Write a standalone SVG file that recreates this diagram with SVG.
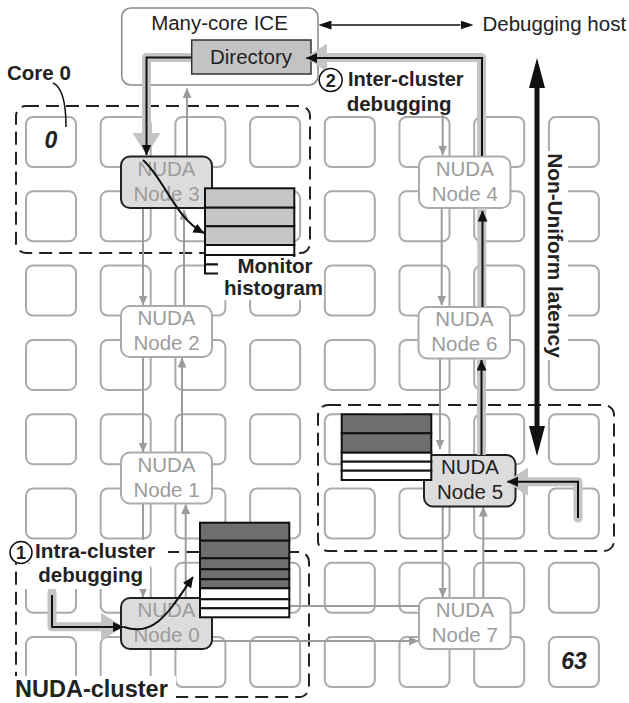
<svg xmlns="http://www.w3.org/2000/svg" width="629" height="703" viewBox="0 0 629 703">
<defs>
<style>
.core{fill:#fff;stroke:#ababab;stroke-width:2}
.clu{fill:none;stroke:#222;stroke-width:2;stroke-dasharray:13 7}
.n-off rect{fill:#fff;stroke:#ababab;stroke-width:2}
.n-on rect{fill:#dcdcdc;stroke:#222;stroke-width:2}
.nt{font-family:"Liberation Sans",Arial,sans-serif;font-size:20.5px;text-anchor:middle;fill:#9c9c9c}
#node5 .nt{fill:#222}
.lbl{font-family:"Liberation Sans",Arial,sans-serif;font-size:20.5px;fill:#222}
.b{font-weight:bold}
.g{fill:none;stroke:#9c9c9c;stroke-width:2;marker-end:url(#ag)}
.gp{fill:none;stroke:#9c9c9c;stroke-width:2}
.k{fill:none;stroke:#111;stroke-width:2;marker-end:url(#ak)}
.h{fill:none;stroke:#c4c4c4;stroke-width:9;stroke-linejoin:round;stroke-linecap:butt}
.hr{stroke-linecap:round}
.hh{marker-end:url(#ah)}
.hg1{fill:#c6c6c6;stroke:#111;stroke-width:2}
.hg2{fill:#6f6f6f;stroke:#111;stroke-width:2}
.hw{fill:#fff;stroke:#111;stroke-width:2}
.bg{fill:#fff;stroke:none}
</style>
<marker id="ag" viewBox="0 0 10 9" refX="9.5" refY="4.5" markerWidth="10" markerHeight="9" markerUnits="userSpaceOnUse" orient="auto"><path d="M0,0 L10,4.5 L0,9z" fill="#9c9c9c"/></marker>
<marker id="ak" viewBox="0 0 11 10" refX="10.5" refY="5" markerWidth="11" markerHeight="10" markerUnits="userSpaceOnUse" orient="auto"><path d="M0,0 L11,5 L0,10z" fill="#111"/></marker>
<marker id="ah" viewBox="0 0 22 28" refX="0" refY="14" markerWidth="22" markerHeight="28" markerUnits="userSpaceOnUse" orient="auto"><path d="M0,0 L22,14 L0,28z" fill="#c4c4c4"/></marker>
<marker id="abig" viewBox="0 0 30 16" refX="0" refY="8" markerWidth="30" markerHeight="16" markerUnits="userSpaceOnUse" orient="auto-start-reverse"><path d="M0,0 L30,8 L0,16z" fill="#111"/></marker>
<marker id="ahost" viewBox="0 0 13 9" refX="0" refY="4.5" markerWidth="13" markerHeight="9" markerUnits="userSpaceOnUse" orient="auto-start-reverse"><path d="M0,0 L13,4.5 L0,9z" fill="#111"/></marker>
</defs>
<rect width="629" height="703" fill="#fff"/>

<g id="cores">
<rect class="core" x="26" y="117" width="50" height="50" rx="7"/><rect class="core" x="100.7" y="117" width="50" height="50" rx="7"/><rect class="core" x="175.4" y="117" width="50" height="50" rx="7"/><rect class="core" x="250.1" y="117" width="50" height="50" rx="7"/><rect class="core" x="324.8" y="117" width="50" height="50" rx="7"/><rect class="core" x="399.5" y="117" width="50" height="50" rx="7"/><rect class="core" x="474.2" y="117" width="50" height="50" rx="7"/><rect class="core" x="548.9" y="117" width="50" height="50" rx="7"/>
<rect class="core" x="26" y="191.3" width="50" height="50" rx="7"/><rect class="core" x="100.7" y="191.3" width="50" height="50" rx="7"/><rect class="core" x="175.4" y="191.3" width="50" height="50" rx="7"/><rect class="core" x="250.1" y="191.3" width="50" height="50" rx="7"/><rect class="core" x="324.8" y="191.3" width="50" height="50" rx="7"/><rect class="core" x="399.5" y="191.3" width="50" height="50" rx="7"/><rect class="core" x="474.2" y="191.3" width="50" height="50" rx="7"/><rect class="core" x="548.9" y="191.3" width="50" height="50" rx="7"/>
<rect class="core" x="26" y="265.6" width="50" height="50" rx="7"/><rect class="core" x="100.7" y="265.6" width="50" height="50" rx="7"/><rect class="core" x="175.4" y="265.6" width="50" height="50" rx="7"/><rect class="core" x="250.1" y="265.6" width="50" height="50" rx="7"/><rect class="core" x="324.8" y="265.6" width="50" height="50" rx="7"/><rect class="core" x="399.5" y="265.6" width="50" height="50" rx="7"/><rect class="core" x="474.2" y="265.6" width="50" height="50" rx="7"/><rect class="core" x="548.9" y="265.6" width="50" height="50" rx="7"/>
<rect class="core" x="26" y="339.9" width="50" height="50" rx="7"/><rect class="core" x="100.7" y="339.9" width="50" height="50" rx="7"/><rect class="core" x="175.4" y="339.9" width="50" height="50" rx="7"/><rect class="core" x="250.1" y="339.9" width="50" height="50" rx="7"/><rect class="core" x="324.8" y="339.9" width="50" height="50" rx="7"/><rect class="core" x="399.5" y="339.9" width="50" height="50" rx="7"/><rect class="core" x="474.2" y="339.9" width="50" height="50" rx="7"/><rect class="core" x="548.9" y="339.9" width="50" height="50" rx="7"/>
<rect class="core" x="26" y="414.2" width="50" height="50" rx="7"/><rect class="core" x="100.7" y="414.2" width="50" height="50" rx="7"/><rect class="core" x="175.4" y="414.2" width="50" height="50" rx="7"/><rect class="core" x="250.1" y="414.2" width="50" height="50" rx="7"/><rect class="core" x="324.8" y="414.2" width="50" height="50" rx="7"/><rect class="core" x="399.5" y="414.2" width="50" height="50" rx="7"/><rect class="core" x="474.2" y="414.2" width="50" height="50" rx="7"/><rect class="core" x="548.9" y="414.2" width="50" height="50" rx="7"/>
<rect class="core" x="26" y="488.5" width="50" height="50" rx="7"/><rect class="core" x="100.7" y="488.5" width="50" height="50" rx="7"/><rect class="core" x="175.4" y="488.5" width="50" height="50" rx="7"/><rect class="core" x="250.1" y="488.5" width="50" height="50" rx="7"/><rect class="core" x="324.8" y="488.5" width="50" height="50" rx="7"/><rect class="core" x="399.5" y="488.5" width="50" height="50" rx="7"/><rect class="core" x="474.2" y="488.5" width="50" height="50" rx="7"/><rect class="core" x="548.9" y="488.5" width="50" height="50" rx="7"/>
<rect class="core" x="26" y="562.8" width="50" height="50" rx="7"/><rect class="core" x="100.7" y="562.8" width="50" height="50" rx="7"/><rect class="core" x="175.4" y="562.8" width="50" height="50" rx="7"/><rect class="core" x="250.1" y="562.8" width="50" height="50" rx="7"/><rect class="core" x="324.8" y="562.8" width="50" height="50" rx="7"/><rect class="core" x="399.5" y="562.8" width="50" height="50" rx="7"/><rect class="core" x="474.2" y="562.8" width="50" height="50" rx="7"/><rect class="core" x="548.9" y="562.8" width="50" height="50" rx="7"/>
<rect class="core" x="26" y="637.1" width="50" height="50" rx="7"/><rect class="core" x="100.7" y="637.1" width="50" height="50" rx="7"/><rect class="core" x="175.4" y="637.1" width="50" height="50" rx="7"/><rect class="core" x="250.1" y="637.1" width="50" height="50" rx="7"/><rect class="core" x="324.8" y="637.1" width="50" height="50" rx="7"/><rect class="core" x="399.5" y="637.1" width="50" height="50" rx="7"/><rect class="core" x="474.2" y="637.1" width="50" height="50" rx="7"/><rect class="core" x="548.9" y="637.1" width="50" height="50" rx="7"/>
<text class="lbl b" x="51" y="148" style="font-size:23px;font-style:italic" text-anchor="middle">0</text>
<text class="lbl b" x="574" y="668.5" style="font-size:23px;font-style:italic" text-anchor="middle">63</text>
</g>

<g id="clusters">
<rect class="clu" x="16" y="106" width="294" height="147" rx="10"/>
<rect class="clu" x="318" y="405" width="296" height="146" rx="10"/>
<rect class="clu" x="16" y="552" width="293" height="145" rx="10"/>
</g>

<g id="ice">
<rect x="121.7" y="8" width="196.3" height="77" rx="9" fill="#fff" stroke="#888" stroke-width="1.5"/>
<text class="lbl" x="219.5" y="30" text-anchor="middle">Many-core ICE</text>
</g>
<g id="directory">
<rect x="191.7" y="40" width="119.3" height="34" fill="#c3c3c3" stroke="#333" stroke-width="1.5"/>
<text class="lbl" x="251" y="63.5" text-anchor="middle">Directory</text>
</g>

<g id="connectors">
<path class="g" d="M187,156 V88.5"/>
<path class="g" d="M143,208 V305"/>
<path class="g" d="M184,306 V210"/>
<path class="g" d="M143,357 V452"/>
<path class="g" d="M182,452.5 V358"/>
<path class="g" d="M143,503 V597"/>
<path class="g" d="M185.7,598 V504.5"/>
<path class="gp" d="M212,606 H419"/>
<path class="g" d="M212,641 H418.5"/>
<path class="g" d="M483.3,598 V507"/>
<path class="g" d="M442.7,506.5 V597"/>
<path class="g" d="M440,359 V449"/>
<path class="g" d="M441.7,208 V305"/>
<path class="g" d="M442.7,115 V155"/>
<path d="M537,88 V426" fill="none" stroke="#111" stroke-width="5" marker-start="url(#abig)" marker-end="url(#abig)"/>
<path d="M331.5,25 H460.5" fill="none" stroke="#111" stroke-width="1.6" marker-start="url(#ahost)" marker-end="url(#ahost)"/>
<path d="M53,83 C60,86 66,96 66,127" fill="none" stroke="#111" stroke-width="1.5"/>
</g>

<g id="node3" class="n-on"><rect x="121" y="156.5" width="91" height="51.5" rx="9"/><text class="nt" x="166.5" y="175.5">NUDA</text><text class="nt" x="166.5" y="200.5">Node 3</text></g>
<g id="node2" class="n-off"><rect x="121" y="306" width="91" height="51" rx="9"/><text class="nt" x="166.5" y="325">NUDA</text><text class="nt" x="166.5" y="349.5">Node 2</text></g>
<g id="node1" class="n-off"><rect x="121" y="452.5" width="91" height="51" rx="9"/><text class="nt" x="166.5" y="471.5">NUDA</text><text class="nt" x="166.5" y="496.5">Node 1</text></g>
<g id="node0" class="n-on"><rect x="121" y="598" width="91" height="51" rx="9"/><text class="nt" x="166.5" y="617">NUDA</text><text class="nt" x="166.5" y="642">Node 0</text></g>
<g id="node4" class="n-off"><rect x="419" y="156.5" width="91.5" height="51.5" rx="9"/><text class="nt" x="464.8" y="175.5">NUDA</text><text class="nt" x="464.8" y="200.5">Node 4</text></g>
<g id="node6" class="n-off"><rect x="418.5" y="307" width="91.5" height="51.5" rx="9"/><text class="nt" x="464.3" y="326">NUDA</text><text class="nt" x="464.3" y="351">Node 6</text></g>
<g id="node7" class="n-off"><rect x="419" y="598" width="91.5" height="51" rx="9"/><text class="nt" x="464.8" y="617">NUDA</text><text class="nt" x="464.8" y="642">Node 7</text></g>
<g id="node5" class="n-on"><rect x="424" y="455" width="91.5" height="51.5" rx="9"/><text class="nt" x="470" y="474">NUDA</text><text class="nt" x="470" y="499">Node 5</text></g>

<g id="histogram3">
<rect class="hg1" x="205" y="188.3" width="89.3" height="19.4"/>
<rect class="hg1" x="205" y="207.7" width="89.3" height="18.6"/>
<rect class="hg1" x="205" y="226.3" width="89.3" height="18.7"/>
<rect class="hw" x="205" y="245" width="89.3" height="10"/>
<rect class="hw" x="205" y="255" width="89.3" height="9.5"/>
<rect class="hw" x="205" y="264.5" width="89.3" height="9"/>
</g>
<g id="histogram5">
<rect class="hg2" x="341.7" y="414.3" width="89.6" height="19"/>
<rect class="hg2" x="341.7" y="433.3" width="89.6" height="19.4"/>
<rect class="hw" x="341.7" y="452.7" width="89.6" height="9"/>
<rect class="hw" x="341.7" y="461.7" width="89.6" height="9"/>
<rect class="hw" x="341.7" y="470.7" width="89.6" height="9.3"/>
</g>
<g id="histogram0">
<rect class="hg2" x="200" y="522.7" width="89.3" height="18"/>
<rect class="hg2" x="200" y="540.7" width="89.3" height="17.6"/>
<rect class="hg2" x="200" y="558.3" width="89.3" height="11"/>
<rect class="hg2" x="200" y="569.3" width="89.3" height="10"/>
<rect class="hg2" x="200" y="579.3" width="89.3" height="9"/>
<rect class="hw" x="200" y="588.3" width="89.3" height="11"/>
<rect class="hw" x="200" y="599.3" width="89.3" height="9"/>
<rect class="hw" x="200" y="608.3" width="89.3" height="9"/>
</g>

<g id="debug-paths">
<path class="h hh" d="M191,57.5 H146.5 V133"/>
<path class="h hh" d="M481.5,156 V57.5 H327"/>
<path class="h" d="M481.8,307 V208"/>
<path class="h" d="M481.5,455 V358.5"/>
<path class="h hr hh" d="M578,518 V481.7 H528"/>
<path class="h hr hh" d="M52,592 V626.7 H101"/>
<path class="k" d="M191,57.5 H146.5 V155"/>
<path class="k" d="M482,156 V58 H306.5"/>
<path class="k" d="M482.5,307 V211"/>
<path class="k" d="M481.5,455 V360"/>
<path class="k" d="M578,518 V481.7 H507.5"/>
<path class="k" d="M52,595 V627 H123.5"/>
<path class="k" d="M143,160 C165,180 175,218 204,233"/>
<path class="k" d="M124,627 C155,638 170,610 193,577"/>
</g>

<g id="labels">
<text class="lbl b" x="7" y="80">Core 0</text>
<text class="lbl" x="482.5" y="31">Debugging host</text>
<circle cx="330.7" cy="80" r="11.5" fill="#fff" stroke="#111" stroke-width="1.5"/>
<text class="lbl b" x="330.7" y="86.5" style="font-size:18px" text-anchor="middle">2</text>
<text class="lbl b" x="348" y="85.7" style="font-size:20px">Inter-cluster</text>
<text class="lbl b" x="346.7" y="110.7" style="font-size:20.5px">debugging</text>
<rect class="bg" x="218" y="257" width="106" height="43"/>
<text class="lbl b" x="275" y="273.3" text-anchor="middle">Monitor</text>
<text class="lbl b" x="273.5" y="294.5" text-anchor="middle">histogram</text>
<rect class="bg" x="541" y="151" width="27" height="209"/>
<text class="lbl b" transform="translate(547.5,255.5) rotate(90)" style="font-size:20.8px" text-anchor="middle">Non-Uniform latency</text>
<rect class="bg" x="30" y="540" width="138" height="24"/>
<rect class="bg" x="20" y="564" width="130" height="25"/>
<circle cx="21" cy="552.5" r="11" fill="#fff" stroke="#111" stroke-width="1.5"/>
<text class="lbl b" x="21" y="559" style="font-size:18px" text-anchor="middle">1</text>
<text class="lbl b" x="35" y="558.3" style="font-size:20.8px">Intra-cluster</text>
<text class="lbl b" x="38.3" y="581.7">debugging</text>
<rect class="bg" x="12" y="676" width="164" height="27"/>
<text class="lbl b" x="15" y="696.5" style="font-size:23.5px">NUDA-cluster</text>
</g>
</svg>
